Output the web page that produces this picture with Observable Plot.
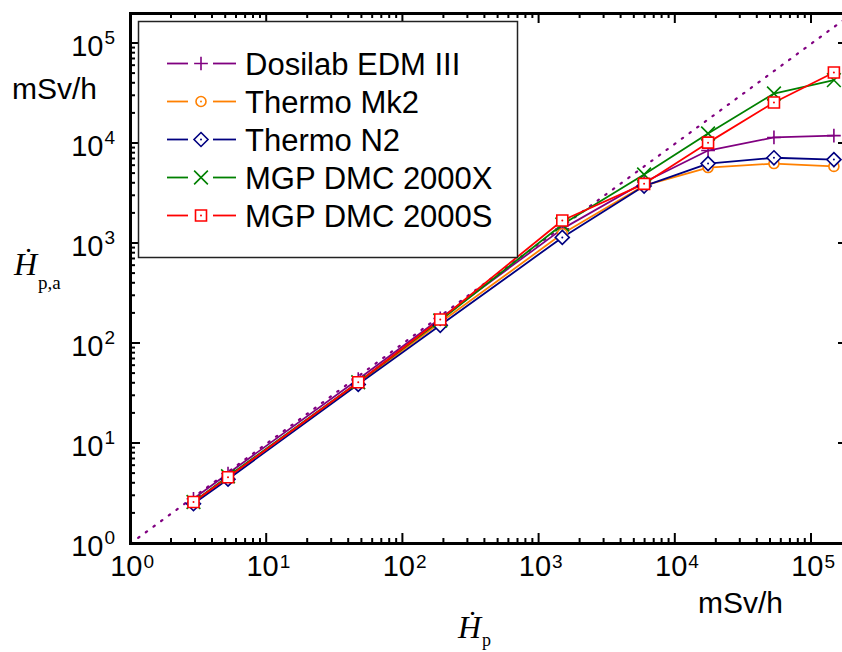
<!DOCTYPE html>
<html><head><meta charset="utf-8">
<script src="https://cdn.jsdelivr.net/npm/d3@7"></script>
<script src="https://cdn.jsdelivr.net/npm/@observablehq/plot@0.6"></script>
<style>body{margin:0;background:#fff} #chart svg{display:block;background:#fff}</style>
</head><body><div id="chart"></div>
<script>
// ---- data ----
const doseRate   = [2.9, 5.2, 47, 188, 1480, 5900, 17400, 53000, 146000];
const dosilab    = [2.8, 5.0, 44, 178, 1400, 4100, 8500, 11500, 12000];
const thermoMk2  = [2.6, 4.6, 40, 162, 1250, 3800, 5750, 6300, 5900];
const thermoN2   = [2.5, 4.4, 39, 152, 1150, 3750, 6300, 7200, 6900];
const mgp2000X   = [2.6, 4.7, 41, 170, 1550, 4900, 12600, 31600, 43000];
const mgp2000S   = [2.6, 4.6, 41, 174, 1700, 3950, 10200, 25700, 51300];
const seriesNames   = ["Dosilab EDM III", "Thermo Mk2", "Thermo N2", "MGP DMC 2000X", "MGP DMC 2000S"];
const seriesValues  = [dosilab, thermoMk2, thermoN2, mgp2000X, mgp2000S];
const seriesColors  = ["#800080", "#ff8000", "#000080", "#008000", "#ff0000"];
const seriesSymbols = ["plus", "circle", "diamond2", "times", "square2"];
const majorTicks    = [1, 10, 100, 1000, 10000, 100000];
const tickBase      = "10";
const tickExponents = ["0", "1", "2", "3", "4", "5"];
const unitLabel     = "mSv/h";
const xDomain = [1, 186900];
const yDomain = [1, 199500];
const identityLine = [1, 186900];

// ---- derived ----
const seriesRows = seriesValues.map((vals, i) => vals.map((v, j) => ({series: seriesNames[i], hp: doseRate[j], hpa: v})));
const minorOf = dom => majorTicks.flatMap(t => [2,3,4,5,6,7,8,9].map(m => m * t)).filter(v => v <= dom[1]);
const xMinor = minorOf(xDomain), yMinor = minorOf(yDomain);

const W = 842, H = 652, mL = 130, mT = 13, mB = 109, mR = -6;

const sans = "Liberation Sans, Arial, sans-serif";
const symR = {plus: 4.5, circle: 5, diamond2: 6.3, times: 6.3, square2: 7};
const hollow = {circle: true, diamond2: true, square2: true};

const marks = [
  Plot.line(identityLine, {x: d => d, y: d => d, stroke: "#800080", strokeWidth: 2.2, strokeDasharray: "1.5,8"})
];
seriesRows.forEach((sub, i) => marks.push(Plot.line(sub, {x: "hp", y: "hpa", stroke: seriesColors[i], strokeWidth: 1.8})));
seriesRows.forEach((sub, i) => {
  const s = seriesSymbols[i];
  marks.push(Plot.dot(sub, {x: "hp", y: "hpa", symbol: s, r: symR[s], stroke: seriesColors[i],
    fill: hollow[s] ? "white" : "none", strokeWidth: 1.6}));
  if (hollow[s]) marks.push(Plot.dot(sub, {x: "hp", y: "hpa", r: 1, fill: seriesColors[i]}));
});
marks.push(
  Plot.text(majorTicks, {x: d => d, frameAnchor: "bottom", text: () => tickBase, textAnchor: "end", dx: 12, dy: 32, fontSize: 29, fontFamily: sans, fill: "black"}),
  Plot.text(majorTicks, {x: d => d, frameAnchor: "bottom", text: (d, i) => tickExponents[i], textAnchor: "start", dx: 13, dy: 24, fontSize: 19, fontFamily: sans, fill: "black"}),
  Plot.text(majorTicks, {y: d => d, frameAnchor: "left", text: () => tickBase, textAnchor: "end", dx: -27, dy: 3, fontSize: 29, fontFamily: sans, fill: "black"}),
  Plot.text(majorTicks, {y: d => d, frameAnchor: "left", text: (d, i) => tickExponents[i], textAnchor: "start", dx: -26, dy: -6, fontSize: 19, fontFamily: sans, fill: "black"}),
  Plot.frame({stroke: "black", strokeWidth: 3})
);

const chart = Plot.plot({
  width: W, height: H,
  marginLeft: mL, marginTop: mT, marginBottom: mB, marginRight: mR,
  x: {type: "log", domain: xDomain, axis: null, label: null},
  y: {type: "log", domain: yDomain, axis: null, label: null},
  marks
});
document.getElementById("chart").append(chart);

const svg = d3.select(chart);

// ---- inward ticks on all four sides, positioned by the chart's own scales ----
const scX = chart.scale("x"), scY = chart.scale("y");
const posX = scX && scX.apply ? v => scX.apply(v) : d3.scaleLog(xDomain, [mL, W - mR]);
const posY = scY && scY.apply ? v => scY.apply(v) : d3.scaleLog(yDomain, [H - mB, mT]);
const yBottomPx = posY(yDomain[0]), yTopPx = posY(yDomain[1]);
const xLeftPx = posX(xDomain[0]), xRightPx = posX(xDomain[1]);
const tg = svg.append("g").attr("stroke", "black").attr("stroke-width", 2);
const addX = (ticks, len) => ticks.forEach(t => {
  const px = posX(t);
  tg.append("line").attr("x1", px).attr("x2", px).attr("y1", yBottomPx).attr("y2", yBottomPx - len);
  tg.append("line").attr("x1", px).attr("x2", px).attr("y1", yTopPx).attr("y2", yTopPx + len);
});
const addY = (ticks, len) => ticks.forEach(t => {
  const py = posY(t);
  tg.append("line").attr("y1", py).attr("y2", py).attr("x1", xLeftPx).attr("x2", xLeftPx + len);
  tg.append("line").attr("y1", py).attr("y2", py).attr("x1", xRightPx).attr("x2", xRightPx - len);
});
addX(majorTicks, 10); addX(xMinor, 5); addY(majorTicks, 10); addY(yMinor, 5);

// ---- annotations: unit labels, axis titles, legend ----
const g = svg.append("g").attr("text-anchor", "start").attr("fill", "black");
g.append("text").attr("x", 12).attr("y", 99).attr("font-family", sans).attr("font-size", 30).text(unitLabel);
g.append("text").attr("x", 698).attr("y", 613).attr("font-family", sans).attr("font-size", 30).text(unitLabel);
const serif = "Liberation Serif, DejaVu Serif, Times New Roman, serif";
const yt = g.append("text").attr("x", 14).attr("y", 275).attr("font-family", serif);
yt.append("tspan").attr("font-style", "italic").attr("font-size", 32).text("Ḣ");
yt.append("tspan").attr("font-size", 19).attr("dy", 14).attr("dx", 1).text("p,a");
const xt = g.append("text").attr("x", 458).attr("y", 638).attr("font-family", serif);
xt.append("tspan").attr("font-style", "italic").attr("font-size", 32).text("Ḣ");
xt.append("tspan").attr("font-size", 18).attr("dy", 8).attr("dx", 1).text("p");

const lg = svg.append("g").attr("text-anchor", "start");
lg.append("rect").attr("x", 138.5).attr("y", 21.5).attr("width", 379).attr("height", 236)
  .attr("fill", "white").attr("stroke", "#222").attr("stroke-width", 1.5);
seriesNames.forEach((name, i) => {
  const cy = 63.5 + 38 * i, c = seriesColors[i], s = seriesSymbols[i];
  lg.append("line").attr("x1", 167).attr("x2", 188).attr("y1", cy).attr("y2", cy).attr("stroke", c).attr("stroke-width", 1.8);
  lg.append("line").attr("x1", 213).attr("x2", 236).attr("y1", cy).attr("y2", cy).attr("stroke", c).attr("stroke-width", 1.8);
  const symType = {plus: d3.symbolPlus, circle: d3.symbolCircle, diamond2: d3.symbolDiamond2, times: d3.symbolTimes, square2: d3.symbolSquare2}[s];
  const size = Math.PI * symR[s] * symR[s];
  lg.append("path").attr("d", d3.symbol(symType, size)()).attr("transform", `translate(201,${cy})`)
    .attr("fill", hollow[s] ? "white" : "none").attr("stroke", c).attr("stroke-width", 1.6);
  if (hollow[s]) lg.append("circle").attr("cx", 201).attr("cy", cy).attr("r", 1).attr("fill", c);
  lg.append("text").attr("x", 245).attr("y", cy + 11).attr("font-family", sans).attr("font-size", 31).attr("fill", "black").text(name);
});
</script></body></html>
